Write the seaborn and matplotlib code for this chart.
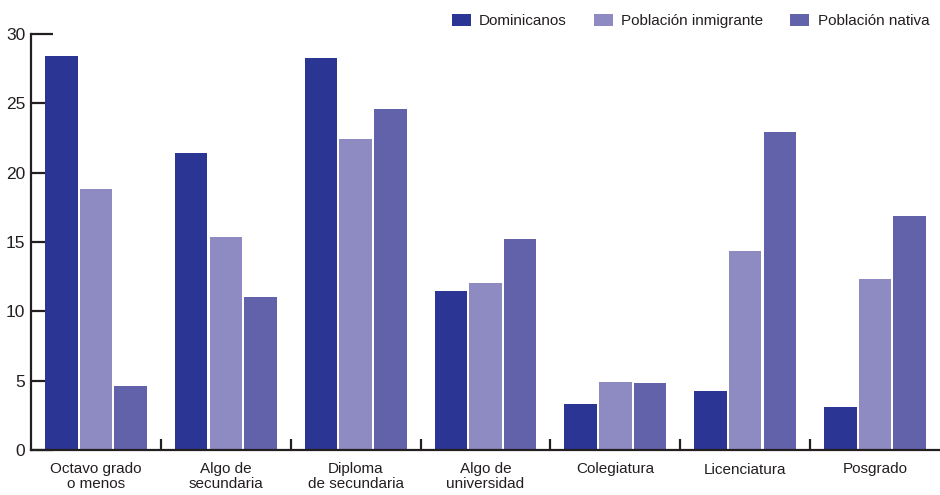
import pandas as pd
import numpy as np
import seaborn as sns
import matplotlib.pyplot as plt

categories = ['Octavo grado\no menos', 'Algo de\nsecundaria', 'Diploma\nde secundaria',
              'Algo de\nuniversidad', 'Colegiatura', 'Licenciatura', 'Posgrado']
series = ['Dominicanos', 'Población inmigrante', 'Población nativa']
dominicanos = [28.4, 21.4, 28.3, 11.45, 3.3, 4.25, 3.1]
inmigrante = [18.8, 15.35, 22.4, 12.05, 4.9, 14.35, 12.3]
nativa = [4.6, 11.05, 24.6, 15.2, 4.85, 22.9, 16.9]
colors = ['#2B3593', '#8E8BC2', '#6262AA']

df = pd.DataFrame({
    'categoria': categories * 3,
    'serie': np.repeat(series, len(categories)),
    'valor': dominicanos + inmigrante + nativa,
})

sns.set_theme(style='white')
plt.rcParams['font.family'] = ['Liberation Sans', 'DejaVu Sans']
ink = '#231F20'

fig = plt.figure(figsize=(9.4, 4.95), dpi=100)
ax = fig.add_axes([31 / 940, 45 / 495, 1 - 31 / 940, 416 / 495])

sns.barplot(data=df, x='categoria', y='valor', hue='serie', palette=colors,
            width=0.8, gap=0.06, saturation=1, linewidth=0, ax=ax)

ax.set_xlim(-0.5, 6.5)
ax.set_ylim(0, 30)
ax.set_yticks([0, 5, 10, 15, 20, 25, 30])
ax.set_xlabel('')
ax.set_ylabel('')
ax.set_axisbelow(True)

for side in ['top', 'right']:
    ax.spines[side].set_visible(False)
for side in ['left', 'bottom']:
    ax.spines[side].set_color(ink)
    ax.spines[side].set_linewidth(1.6)

ax.tick_params(axis='y', direction='in', length=16, width=1.6, color=ink,
               labelsize=12.5, labelcolor=ink, pad=4, left=True)
ax.tick_params(axis='x', which='major', length=0, labelsize=11, labelcolor=ink, pad=9)
for lbl in ax.get_xticklabels():
    lbl.set_linespacing(1.0)
ax.set_xticks(np.arange(0.5, 6.5, 1), minor=True)
ax.tick_params(axis='x', which='minor', direction='in', length=8, width=1.6,
               color=ink, bottom=True)

handles, labels = ax.get_legend_handles_labels()
ax.legend(handles, labels, ncol=3, loc='upper left', bbox_to_anchor=(438 / 940, 1.0),
          bbox_transform=fig.transFigure, frameon=False, fontsize=11,
          handlelength=1.25, handleheight=0.85, handletextpad=0.55,
          columnspacing=1.75, borderaxespad=0.5, labelcolor=ink)

fig.savefig('out.png', dpi=100)
